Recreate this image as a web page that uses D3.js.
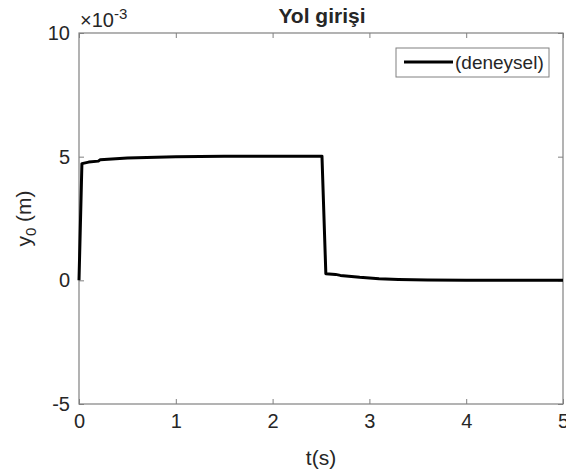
<!DOCTYPE html>
<html>
<head>
<meta charset="utf-8">
<script src="https://cdn.jsdelivr.net/npm/d3@7"></script>
<style>
  body { margin: 0; background: #fff; }
  text { font-family: "Liberation Sans", Arial, sans-serif; fill: #262626; }
</style>
</head>
<body>
<div id="chart"></div>
<script>
// data (y in units of 1e-3 m)
const tValues = [0, 0.03, 0.1, 0.2, 0.22, 0.5, 1.0, 1.5, 2.0, 2.51, 2.55, 2.65, 2.7, 2.9, 3.1, 3.3, 3.6, 4.0, 5.0];
const yValues = [0, 4.72, 4.78, 4.82, 4.88, 4.95, 5.0, 5.02, 5.02, 5.02, 0.27, 0.24, 0.2, 0.12, 0.06, 0.03, 0.01, 0, 0];
const xTicks = [0, 1, 2, 3, 4, 5];
const yTicks = [-5, 0, 5, 10];
const titleText = "Yol girişi";
const legendText = "(deneysel)";

const width = 566, height = 475;
const margin = {top: 33, right: 3, bottom: 71, left: 79};

const svg = d3.select("#chart").append("svg")
  .attr("width", width)
  .attr("height", height);

const x = d3.scaleLinear().domain([0, 5]).range([margin.left, width - margin.right]);
const y = d3.scaleLinear().domain([-5, 10]).range([height - margin.bottom, margin.top]);

const axisColor = "#808080";
const tickLen = 5;
const plain = d => String(d); // MATLAB style, hyphen minus

// axes (MATLAB style: ticks inside, box all round)
function styleAxis(g) {
  g.select(".domain").remove();
  g.selectAll(".tick line").attr("stroke", axisColor);
  g.selectAll(".tick text").style("font-size", "20px").attr("fill", "#262626");
}

svg.append("g")
  .attr("transform", `translate(0,${height - margin.bottom})`)
  .call(d3.axisBottom(x).tickValues(xTicks).tickFormat(plain).tickSizeInner(-tickLen).tickSizeOuter(0).tickPadding(10))
  .call(styleAxis);

svg.append("g")
  .attr("transform", `translate(0,${margin.top})`)
  .call(d3.axisTop(x).tickValues(xTicks).tickSizeInner(-tickLen).tickSizeOuter(0).tickFormat(""))
  .call(styleAxis);

svg.append("g")
  .attr("transform", `translate(${margin.left},0)`)
  .call(d3.axisLeft(y).tickValues(yTicks).tickFormat(plain).tickSizeInner(-tickLen).tickSizeOuter(0).tickPadding(9))
  .call(styleAxis);

svg.append("g")
  .attr("transform", `translate(${width - margin.right},0)`)
  .call(d3.axisRight(y).tickValues(yTicks).tickSizeInner(-tickLen).tickSizeOuter(0).tickFormat(""))
  .call(styleAxis);

svg.append("rect")
  .attr("x", margin.left).attr("y", margin.top)
  .attr("width", width - margin.left - margin.right)
  .attr("height", height - margin.top - margin.bottom)
  .attr("fill", "none").attr("stroke", axisColor).attr("stroke-width", 1.2);

// data line
const line = d3.line().x((d, i) => x(tValues[i])).y(d => y(d));
svg.append("path")
  .datum(yValues)
  .attr("fill", "none")
  .attr("stroke", "#000")
  .attr("stroke-width", 3)
  .attr("stroke-linejoin", "round")
  .attr("d", line);

// exponent label
const expo = svg.append("text")
  .attr("x", x(0) + 1).attr("y", 27)
  .style("font-size", "20px");
expo.append("tspan").text("\u00d710");
expo.append("tspan").attr("dy", -8).style("font-size", "15px").text("-3");

// title
svg.append("text")
  .attr("x", (margin.left + width - margin.right) / 2 + 1)
  .attr("y", 23)
  .attr("text-anchor", "middle")
  .style("font-size", "21px")
  .style("font-weight", "bold")
  .attr("fill", "#000")
  .text(titleText);

// axis labels
svg.append("text")
  .attr("x", (margin.left + width - margin.right) / 2)
  .attr("y", 465)
  .attr("text-anchor", "middle")
  .style("font-size", "21px")
  .text("t(s)");

const ylab = svg.append("text")
  .attr("transform", `translate(31,${(margin.top + height - margin.bottom) / 2}) rotate(-90)`)
  .attr("text-anchor", "middle")
  .style("font-size", "21px");
ylab.append("tspan").text("y");
ylab.append("tspan").attr("dy", 5).style("font-size", "15px").text("0");
ylab.append("tspan").attr("dy", -5).text(" (m)");

// legend
const legend = svg.append("g");
legend.append("rect")
  .attr("x", 396).attr("y", 48)
  .attr("width", 153).attr("height", 29)
  .attr("fill", "#fff").attr("stroke", axisColor).attr("stroke-width", 1);
legend.append("line")
  .attr("x1", 404).attr("x2", 453)
  .attr("y1", 62).attr("y2", 62)
  .attr("stroke", "#000").attr("stroke-width", 3);
legend.append("text")
  .attr("x", 455).attr("y", 69)
  .style("font-size", "19px")
  .text(legendText);
</script>
</body>
</html>
